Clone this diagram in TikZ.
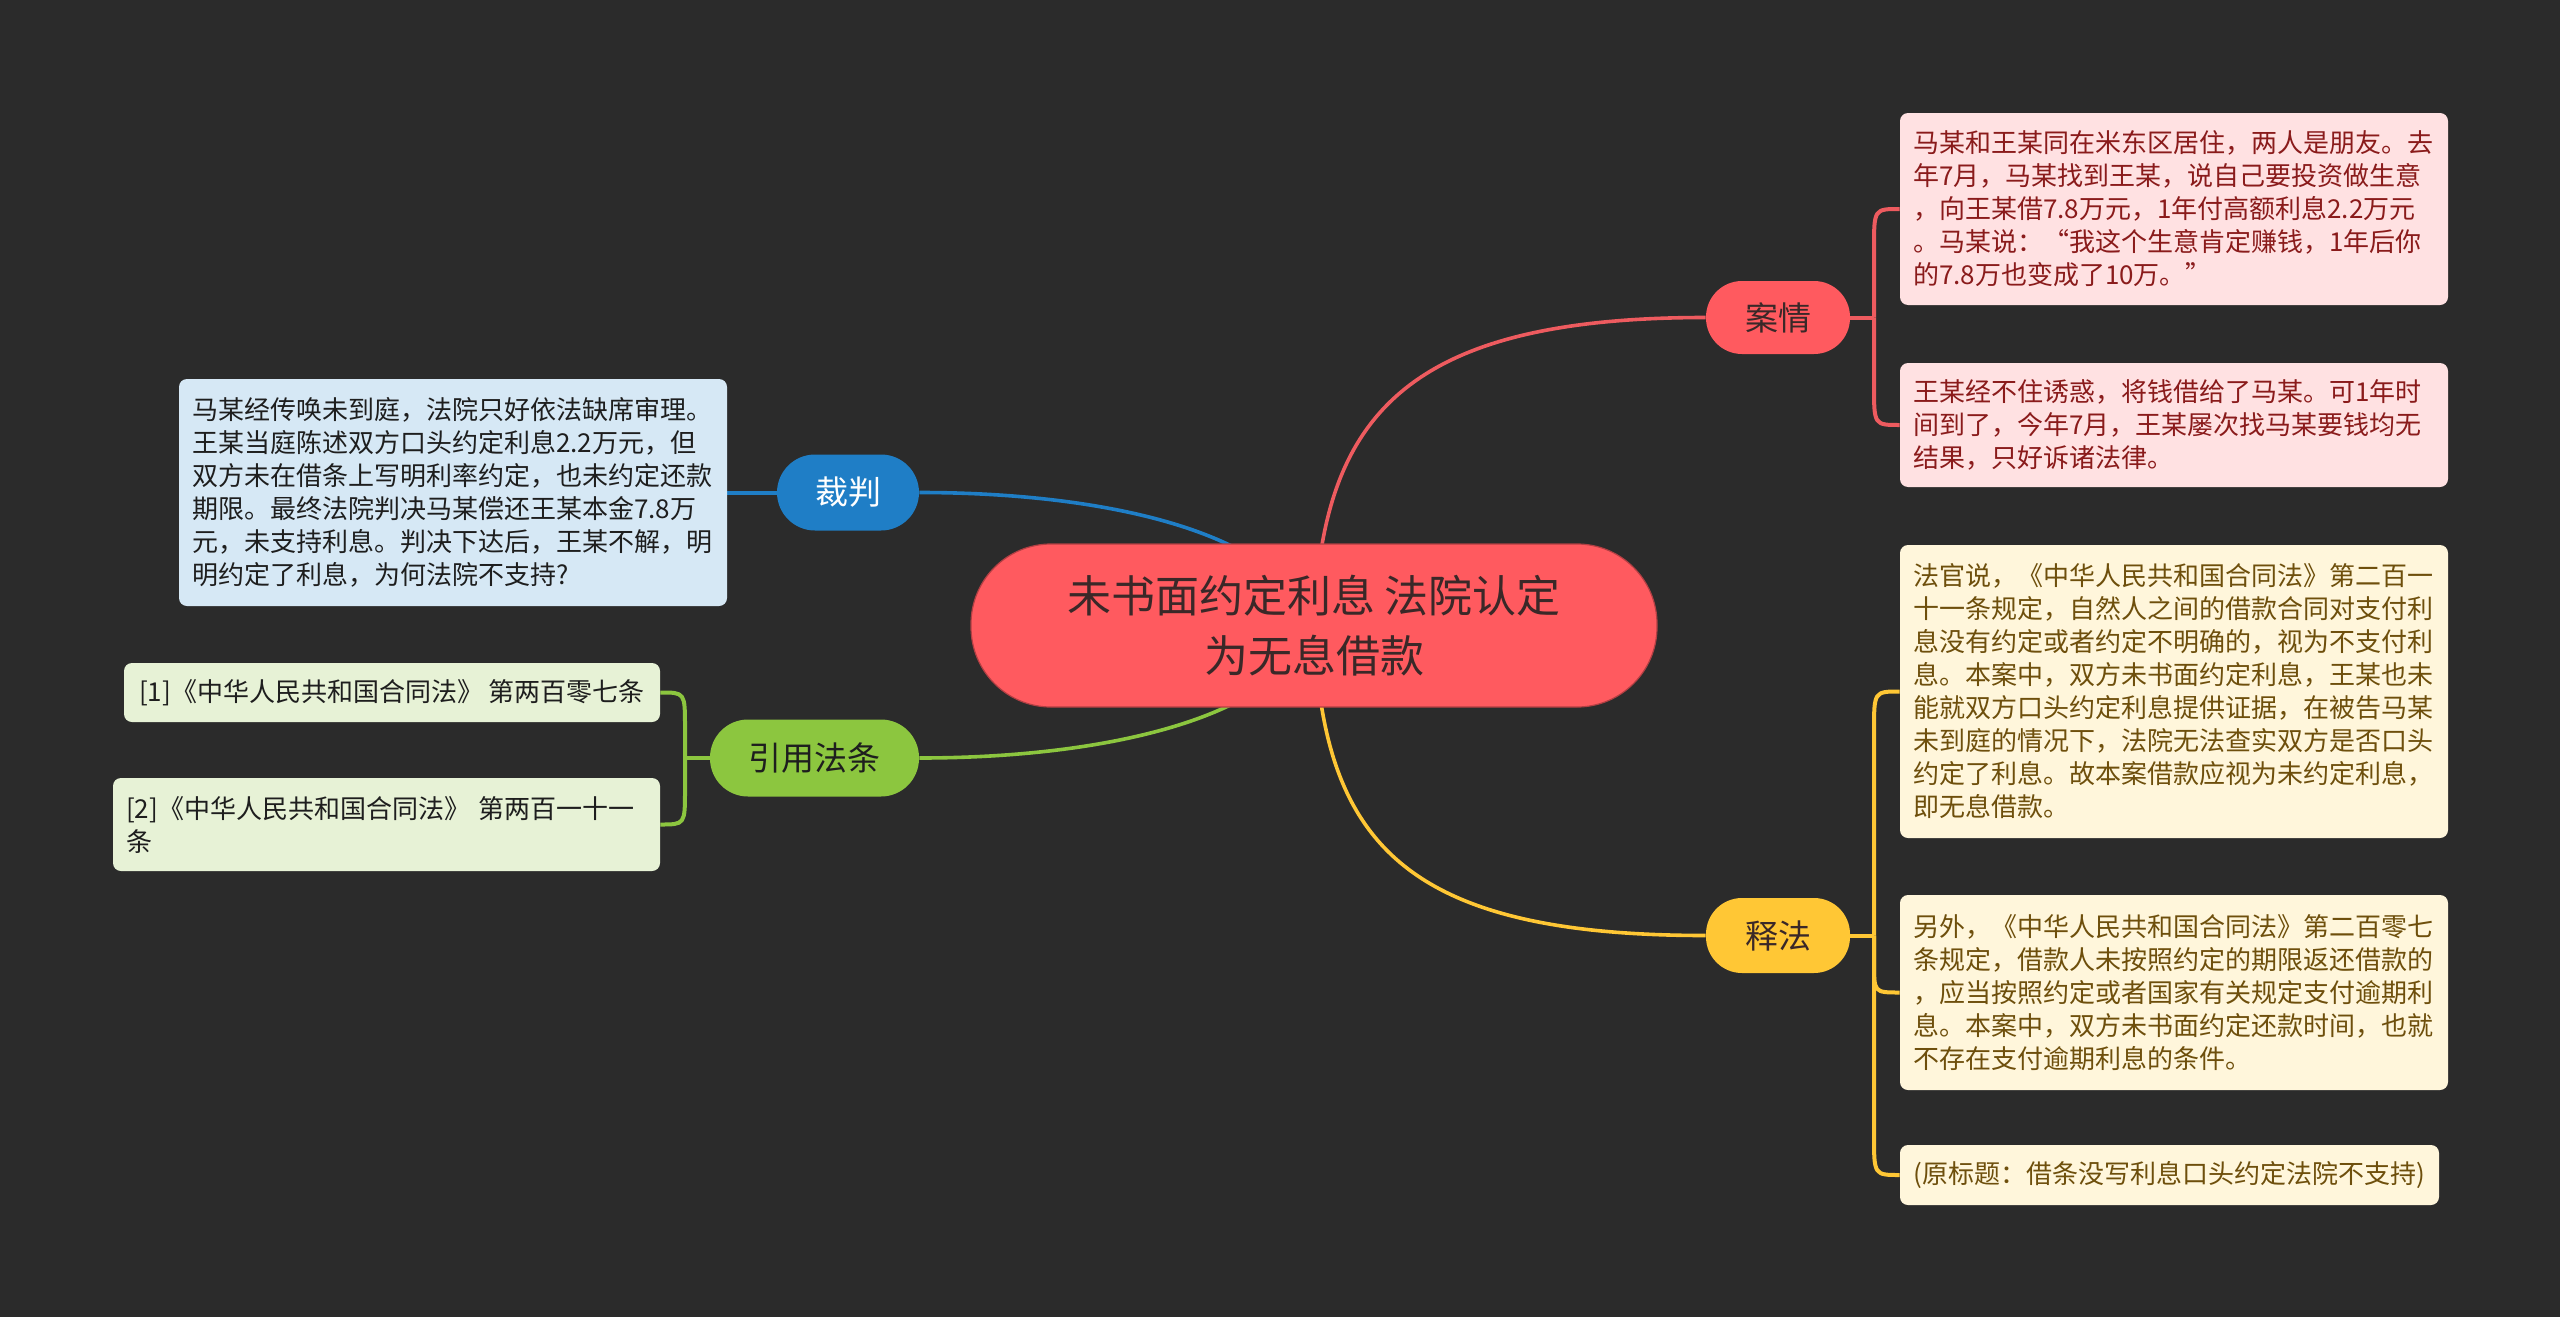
\documentclass[tikz,border=0pt]{standalone}
\usepackage{fontspec}
\setmainfont{Noto Sans CJK SC}
\usetikzlibrary{calc}
\definecolor{bg}{HTML}{2B2B2B}
\definecolor{cred}{HTML}{FF5A5F}
\definecolor{credline}{HTML}{EE5B5F}
\definecolor{cblue}{HTML}{1F7EC6}
\definecolor{cgreen}{HTML}{8CC63F}
\definecolor{cyellow}{HTML}{FFC735}
\definecolor{lpink}{HTML}{FFE1E2}
\definecolor{lyellow}{HTML}{FFF6DB}
\definecolor{lblue}{HTML}{D6E8F5}
\definecolor{lgreen}{HTML}{E7F2D6}
\definecolor{tred}{HTML}{8A1B1B}
\definecolor{tbrown}{HTML}{6E4F0C}
\definecolor{tdark}{HTML}{1E1E1E}
\definecolor{tcentral}{HTML}{3A2828}
\pgfdeclarelayer{bgl}
\pgfdeclarelayer{edges}
\pgfsetlayers{bgl,edges,main}
\begin{document}
\begin{tikzpicture}[x=0.5pt,y=-0.5pt,
  leafbox/.style={rounded corners=4pt, inner xsep=6.5pt, inner ysep=3pt,
    font={\fontsize{13}{16.5}\selectfont}, text width=261pt, align=left},
  pinkleaf/.style={leafbox, fill=lpink, text=tred},
  yelleaf/.style={leafbox, fill=lyellow, text=tbrown},
  blueleaf/.style={leafbox, fill=lblue, text=tdark},
  greenleaf/.style={leafbox, fill=lgreen, text=tdark},
  branchbox/.style={inner sep=0pt, font={\fontsize{16.5}{20}\selectfont}},
  mainline/.style={line width=1.8pt},
  leafline/.style={line width=2pt}]
\useasboundingbox (0,0) rectangle (2560,1317);
\begin{pgfonlayer}{bgl}
\fill[bg] (0,0) rectangle (2560,1317);
\end{pgfonlayer}

% central
\node[fill=cred, draw=cred!70!black, line width=0.6pt, rounded corners=40pt,
  minimum width=343pt, minimum height=81.5pt, inner sep=0pt, align=center,
  text=tcentral, font={\fontsize{22}{30}\selectfont}]
  (central) at (1314,625.5) {未书面约定利息 法院认定\\为无息借款};

% branches
\node[branchbox, fill=cred, text=tcentral, rounded corners=18pt,
  minimum width=72pt, minimum height=36.5pt] (anq) at (1778,317.5) {案情};
\node[branchbox, fill=cyellow, text=tcentral, rounded corners=18pt,
  minimum width=72pt, minimum height=37.5pt] (sf) at (1778,935.5) {释法};
\node[branchbox, fill=cblue, text=white, rounded corners=19pt,
  minimum width=71pt, minimum height=38pt] (cp) at (848,492.5) {裁判};
\node[branchbox, fill=cgreen, text=tdark, rounded corners=19pt,
  minimum width=104.5pt, minimum height=38.5pt] (yy) at (814.5,758) {引用法条};

% leaves right
\node[pinkleaf, minimum height=96pt] (anq1) at (2174,209) {马某和王某同在米东区居住，两人是朋友。去\\年7月，马某找到王某，说自己要投资做生意\\，向王某借7.8万元，1年付高额利息2.2万元\\。马某说：“我这个生意肯定赚钱，1年后你\\的7.8万也变成了10万。”};
\node[pinkleaf, minimum height=62pt] (anq2) at (2174,425) {王某经不住诱惑，将钱借给了马某。可1年时\\间到了，今年7月，王某屡次找马某要钱均无\\结果，只好诉诸法律。};
\node[yelleaf, minimum height=146.5pt] (sf1) at (2174,691.5) {法官说，《中华人民共和国合同法》第二百一\\十一条规定，自然人之间的借款合同对支付利\\息没有约定或者约定不明确的，视为不支付利\\息。本案中，双方未书面约定利息，王某也未\\能就双方口头约定利息提供证据，在被告马某\\未到庭的情况下，法院无法查实双方是否口头\\约定了利息。故本案借款应视为未约定利息，\\即无息借款。};
\node[yelleaf, minimum height=97.5pt] (sf2) at (2174,992.5) {另外，《中华人民共和国合同法》第二百零七\\条规定，借款人未按照约定的期限返还借款的\\，应当按照约定或者国家有关规定支付逾期利\\息。本案中，双方未书面约定还款时间，也就\\不存在支付逾期利息的条件。};
\node[rounded corners=4pt, fill=lyellow, text=tbrown, inner sep=0pt,
  font={\fontsize{13}{16.5}\selectfont}, minimum width=269.5pt, minimum height=30pt]
  (sf3) at (2169.5,1175) {(原标题：借条没写利息口头约定法院不支持)};

% leaves left
\node[blueleaf, minimum height=113.5pt] (cpl) at (453,492.5) {马某经传唤未到庭，法院只好依法缺席审理。\\王某当庭陈述双方口头约定利息2.2万元，但\\双方未在借条上写明利率约定，也未约定还款\\期限。最终法院判决马某偿还王某本金7.8万\\元，未支持利息。判决下达后，王某不解，明\\明约定了利息，为何法院不支持?};
\node[rounded corners=4pt, fill=lgreen, text=tdark, inner sep=0pt,
  font={\fontsize{13}{16.5}\selectfont}, minimum width=268pt, minimum height=29.5pt]
  (yy1) at (392,692.5) {[1]《中华人民共和国合同法》 第两百零七条};
\node[greenleaf, text width=260.5pt, minimum height=46.5pt] (yy2) at (386.5,824.5) {[2]《中华人民共和国合同法》 第两百一十一\\条};

% trunk points
\coordinate (anqT) at (1874,317.5);
\coordinate (sfT) at (1874,935.5);
\coordinate (yyT) at (685,758);

\begin{pgfonlayer}{edges}
% main connectors
\draw[mainline, credline] (central.center) .. controls (1322,420) and (1400,317.5) .. (anq.west);
\draw[mainline, cyellow] (central.center) .. controls (1322,840) and (1400,935.5) .. (sf.west);
\draw[mainline, cblue] (central.center) .. controls (1280,530) and (1100,492.5) .. (cp.east);
\draw[mainline, cgreen] (central.center) .. controls (1280,720) and (1100,758) .. (yy.east);

% red leaves
\draw[leafline, credline] (anq.east) -- (anqT);
\draw[leafline, credline] (anqT) -- ($(anqT |- anq1.west)+(0,40)$) .. controls (anqT |- anq1.west) .. (anq1.west);
\draw[leafline, credline] (anqT) -- ($(anqT |- anq2.west)+(0,-40)$) .. controls (anqT |- anq2.west) .. (anq2.west);

% yellow leaves
\draw[leafline, cyellow] (sf.east) -- (sfT);
\draw[leafline, cyellow] (sfT) -- ($(sfT |- sf1.west)+(0,40)$) .. controls (sfT |- sf1.west) .. (sf1.west);
\draw[leafline, cyellow] (sfT) -- ($(sfT |- sf2.west)+(0,-30)$) .. controls (sfT |- sf2.west) .. (sf2.west);
\draw[leafline, cyellow] (sfT) -- ($(sfT |- sf3.west)+(0,-40)$) .. controls (sfT |- sf3.west) .. (sf3.west);

% blue leaf
\draw[leafline, cblue] (cp.west) -- (cpl.east);

% green leaves
\draw[leafline, cgreen] (yy.west) -- (yyT);
\draw[leafline, cgreen] (yyT) -- ($(yyT |- yy1.east)+(0,35)$) .. controls (yyT |- yy1.east) .. (yy1.east);
\draw[leafline, cgreen] (yyT) -- ($(yyT |- yy2.east)+(0,-35)$) .. controls (yyT |- yy2.east) .. (yy2.east);
\end{pgfonlayer}
\end{tikzpicture}
\end{document}
